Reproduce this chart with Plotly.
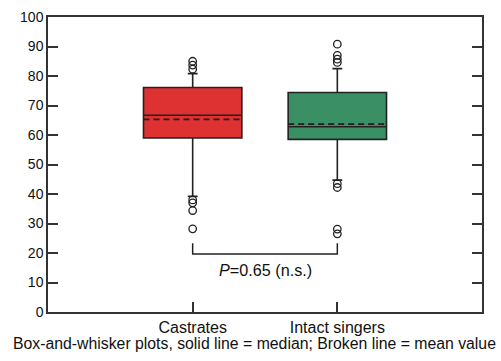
import plotly.graph_objects as go

categories = ["Castrates", "Intact singers"]
positions = [0, 1]
q1 = [59.0, 58.5]
median = [66.7, 62.8]
q3 = [76.1, 74.4]
lower_whisker = [39.2, 44.7]
upper_whisker = [80.8, 82.5]
means = [65.3, 63.7]
outliers = [
    [85.0, 83.7, 82.3, 38.0, 37.0, 34.4, 28.2],
    [90.8, 87.0, 85.7, 84.6, 43.5, 42.2, 28.1, 26.5],
]
colors = ["#DE3131", "#3A8F65"]
bracket_x = [0, 0, 1, 1]
bracket_y = [23.3, 19.7, 19.7, 23.3]
p_text = "<i>P</i>=0.65 (n.s.)"
p_y = 14.3
y_ticks = list(range(0, 101, 10))
caption = "Box-and-whisker plots, solid line = median; Broken line = mean value"

box_width = 0.68
fig = go.Figure()
for i in range(2):
    fig.add_trace(go.Box(
        x=[positions[i]], q1=[q1[i]], median=[median[i]], q3=[q3[i]],
        lowerfence=[lower_whisker[i]], upperfence=[upper_whisker[i]],
        boxpoints=False, width=box_width, whiskerwidth=0.1,
        fillcolor=colors[i], line=dict(color="#222222", width=1.6),
        showlegend=False, hoverinfo="skip",
    ))
    half = box_width / 2
    fig.add_trace(go.Scatter(
        x=[positions[i] - half, positions[i] + half], y=[means[i], means[i]],
        mode="lines", line=dict(color="#2a1a1a", width=1.8, dash="6px,4px"),
        showlegend=False, hoverinfo="skip",
    ))
    fig.add_trace(go.Scatter(
        x=[positions[i]] * len(outliers[i]), y=outliers[i], mode="markers",
        marker=dict(symbol="circle-open", size=7.5, color="#222222", line=dict(width=1.3)),
        showlegend=False, hoverinfo="skip",
    ))

fig.add_trace(go.Scatter(
    x=bracket_x, y=bracket_y, mode="lines",
    line=dict(color="#222222", width=1.5), showlegend=False, hoverinfo="skip",
))
fig.add_annotation(x=0.5, y=p_y, text=p_text, showarrow=False,
                   font=dict(size=16.2, color="#111111", family="Liberation Sans, Arial"))
fig.add_annotation(x=0.476, y=-0.107, xref="paper", yref="paper", text=caption,
                   showarrow=False, yanchor="middle",
                   font=dict(size=15.8, color="#111111", family="Liberation Sans, Arial"))

fig.update_layout(
    width=501, height=361,
    margin=dict(l=48, r=19, t=17, b=49, autoexpand=False),
    paper_bgcolor="white", plot_bgcolor="white",
    font=dict(family="Liberation Sans, Arial", size=14, color="#111111"),
    showlegend=False,
)
fig.update_xaxes(
    range=[-1, 2], tickvals=positions, ticktext=categories,
    ticks="inside", ticklen=10, tickwidth=1.5, tickcolor="#333333",
    showline=True, linecolor="#333333", linewidth=1.5, mirror=True,
    showgrid=False, zeroline=False, tickfont=dict(size=16), ticklabelstandoff=0,
)
fig.update_yaxes(
    range=[0, 100], tickvals=y_ticks,
    ticks="inside", ticklen=10, tickwidth=1.5, tickcolor="#333333",
    showline=True, linecolor="#333333", linewidth=1.5, mirror="ticks",
    showgrid=False, zeroline=False, tickfont=dict(size=14),
)
fig.write_html("out.html", config={"displayModeBar": False})

with open("out.html", "r", encoding="utf-8") as f:
    html = f.read()
html = html.replace("<head>", "<head><style>html,body{margin:0;padding:0;overflow:hidden;}</style>", 1)
with open("out.html", "w", encoding="utf-8") as f:
    f.write(html)
